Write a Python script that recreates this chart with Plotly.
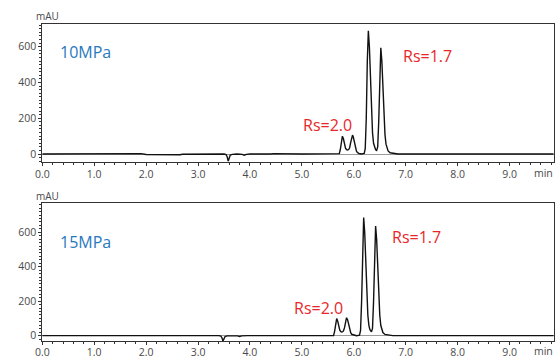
import plotly.graph_objects as go

# ---------------- data ----------------
top_time = [0.00, 1.20, 1.24, 1.28, 1.85, 1.90, 2.00, 2.30, 2.65, 2.70, 3.00, 3.50, 3.54, 3.56,
            3.58, 3.60, 3.62, 3.66, 3.75, 3.85, 3.89, 3.93, 4.00, 4.40, 4.45, 5.00, 5.70,
            5.72, 5.74, 5.76, 5.78, 5.80, 5.82, 5.84, 5.86, 5.88, 5.90, 5.92, 5.94, 5.96, 5.975,
            5.99, 6.01, 6.03, 6.05, 6.07, 6.10, 6.15, 6.20, 6.22, 6.24, 6.26, 6.28, 6.30, 6.32,
            6.34, 6.36, 6.38, 6.40, 6.42, 6.44, 6.46, 6.48, 6.50, 6.52, 6.54, 6.56, 6.58, 6.60,
            6.62, 6.64, 6.66, 6.70, 6.76, 6.85, 7.50, 8.60, 8.75, 8.90, 9.30, 9.85]
top_signal = [0, 0, 2, 0, 0, 2, -3, -4, -4, -1, 0, 0, -3, -15,
              -40, -18, -6, -2, 0, -2, -7, -2, 0, 0, 2, 0, 0,
              2, 25, 75, 100, 85, 55, 33, 24, 22, 25, 35, 65, 100, 106,
              95, 65, 35, 17, 8, 3, 0, 3, 30, 200, 520, 689, 600, 420,
              240, 120, 60, 35, 24, 20, 40, 182, 455, 594, 520, 370, 215, 110,
              55, 30, 17, 7, 3, 0, 0, 0, 3, 0, 0, 0]

bot_time = [0.00, 0.90, 1.00, 1.30, 1.40, 1.50, 1.80, 1.90, 2.90, 3.00, 3.40, 3.44, 3.46,
            3.48, 3.50, 3.52, 3.56, 3.65, 3.76, 3.80, 3.84, 3.95, 4.50, 5.55, 5.61,
            5.63, 5.65, 5.67, 5.69, 5.71, 5.73, 5.75, 5.77, 5.79, 5.80, 5.82, 5.84, 5.86, 5.88,
            5.90, 5.92, 5.94, 5.96, 6.00, 6.05, 6.11, 6.13, 6.15, 6.17, 6.19, 6.21, 6.23, 6.25,
            6.27, 6.29, 6.31, 6.34, 6.36, 6.38, 6.40, 6.42, 6.44, 6.46, 6.48, 6.50, 6.52, 6.54,
            6.56, 6.60, 6.66, 6.75, 7.70, 8.40, 8.50, 8.60, 9.40, 9.85]
bot_signal = [0, 0, 2, 2, 3, 2, 0, 2, 0, 2, 0, -3, -12,
              -31, -14, -5, -1, 0, -1, -5, -1, 0, 0, 0, 0,
              25, 74, 99, 84, 54, 32, 23, 21, 24, 28, 45, 85, 104, 93,
              62, 34, 17, 8, 3, 0, 3, 30, 200, 518, 686, 598, 418, 239,
              120, 60, 35, 22, 42, 195, 490, 636, 557, 396, 230, 118, 59, 32,
              18, 7, 3, 0, 0, 0, 2, 0, 0, 0]

x_tick_vals = [0, 1, 2, 3, 4, 5, 6, 7, 8, 9]
x_tick_text = ["0.0", "1.0", "2.0", "3.0", "4.0", "5.0", "6.0", "7.0", "8.0", "9.0"]
y_tick_vals = [0, 200, 400, 600]

panel_labels = ["10MPa", "15MPa"]
rs_small = ["Rs=2.0", "Rs=2.0"]
rs_large = ["Rs=1.7", "Rs=1.7"]

# ---------------- figure ----------------
W, H = 556, 359
fig = go.Figure()
fig.add_trace(go.Scatter(x=top_time, y=top_signal, mode="lines",
                         line=dict(color="#111111", width=1.4), xaxis="x", yaxis="y",
                         showlegend=False, hoverinfo="skip"))
fig.add_trace(go.Scatter(x=bot_time, y=bot_signal, mode="lines",
                         line=dict(color="#111111", width=1.4), xaxis="x2", yaxis="y2",
                         showlegend=False, hoverinfo="skip"))

tickfont = dict(family="Open Sans", size=10.5, color="#4a4a4a")
x_left, x_right = 42.3 / W, 553.7 / W


def xaxis(anchor, standoff):
    return dict(domain=[x_left, x_right], anchor=anchor, range=[0, 9.85], automargin=False,
                tickvals=x_tick_vals, ticktext=x_tick_text, ticks="outside", ticklen=3,
                tickcolor="#333", tickwidth=1, tickfont=tickfont, ticklabelstandoff=standoff,
                showline=True, linecolor="#333", linewidth=1, mirror=True,
                showgrid=False, zeroline=False,
                minor=dict(dtick=0.2, tick0=0, ticks="outside", ticklen=2,
                           tickcolor="#333", showgrid=False))


def yaxis(anchor, dom, rng):
    return dict(domain=dom, anchor=anchor, range=rng, tickvals=y_tick_vals, automargin=False,
                ticks="outside", ticklen=3, tickcolor="#333", tickwidth=1, tickfont=tickfont,
                showline=True, linecolor="#333", linewidth=1, mirror=True,
                showgrid=False, zeroline=True, zerolinecolor="#9a9a9a", zerolinewidth=1,
                minor=dict(dtick=20, tick0=0, ticks="outside", ticklen=2,
                           tickcolor="#333", showgrid=False))


fig.update_layout(
    width=W, height=H, margin=dict(l=0, r=0, t=0, b=0, autoexpand=False),
    paper_bgcolor="white", plot_bgcolor="white",
    xaxis=xaxis("y", 0),
    yaxis=yaxis("x", [1 - 161.7 / H, 1 - 24 / H], [-43, 727]),
    xaxis2=xaxis("y2", -2),
    yaxis2=yaxis("x2", [1 - 341 / H, 1 - 203.3 / H], [-31, 768]),
)

blue = "#2878be"
red = "#e8262a"
afont = dict(family="Open Sans", size=16)
ann = []
for i, (xr, yr) in enumerate([("x", "y"), ("x2", "y2")]):
    lbl_y = [570, 544][i]
    ann.append(dict(x=0.30, y=lbl_y, xref=xr, yref=yr, text=panel_labels[i], showarrow=False,
                    xanchor="left", yanchor="middle", font=dict(afont, color=blue)))
    ann.append(dict(x=[4.98, 4.81][i], y=162, xref=xr, yref=yr, text=rs_small[i],
                    showarrow=False, xanchor="left", yanchor="middle",
                    font=dict(afont, color=red)))
    ann.append(dict(x=[6.91, 6.70][i], y=[548, 575][i], xref=xr, yref=yr, text=rs_large[i],
                    showarrow=False, xanchor="left", yanchor="middle",
                    font=dict(afont, color=red)))
# axis unit labels
for yc in [16, 195.7]:
    ann.append(dict(x=47 / W, y=1 - yc / H, xref="paper", yref="paper", text="mAU",
                    showarrow=False, xanchor="center", yanchor="middle",
                    font=dict(family="Open Sans", size=10, color="#4a4a4a")))
for yc in [172.5, 350.5]:
    ann.append(dict(x=543 / W, y=1 - yc / H, xref="paper", yref="paper", text="min",
                    showarrow=False, xanchor="center", yanchor="middle",
                    font=dict(family="Open Sans", size=10.5, color="#4a4a4a")))
fig.update_layout(annotations=ann)

fig.write_html("out.html", config={"displayModeBar": False},
               post_script="document.body.style.margin='0px';"
                           "document.body.style.overflow='hidden';")
